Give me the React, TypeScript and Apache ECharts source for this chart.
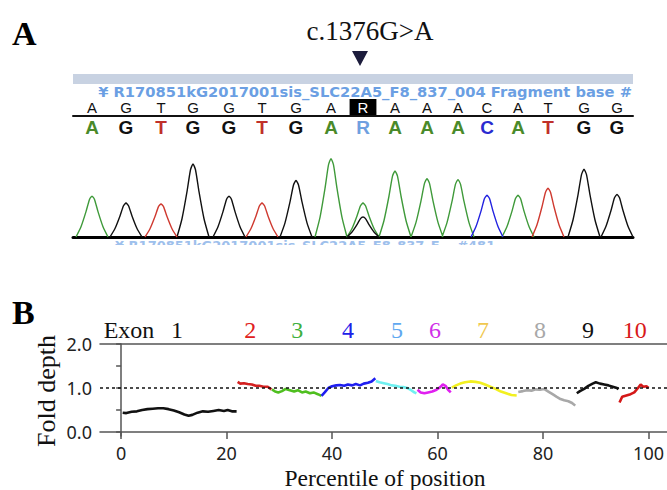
import React, { useEffect, useRef } from "react";
import * as echarts from "echarts";

// ---------- Panel A: chromatogram ----------
const calledBases = ["A", "G", "T", "G", "G", "T", "G", "A", "R", "A", "A", "A", "C", "A", "T", "G", "G"];
const basePos = [19, 53, 88, 120, 156, 189, 223, 258, 290, 322, 354, 385, 414, 445, 475, 511, 544];
// peaks: trace position, height (% of scale), channel
const peakPos = [19, 53, 88, 120, 156, 189, 223, 258, 290, 290, 322, 354, 385, 414, 445, 475, 511, 544];
const peakHeight = [47, 39, 38, 84, 47, 39, 65, 90, 39, 23, 76, 67, 66, 48, 48, 56, 78, 49];
const peakChannel = ["A", "G", "T", "G", "G", "T", "G", "A", "A", "G", "A", "A", "A", "C", "A", "T", "G", "G"];

// ---------- Panel B: fold depth per exon ----------
const exon1 = [[0.3,0.44],[1,0.43],[2,0.46],[3,0.47],[4,0.5],[5,0.52],[6,0.53],[7,0.54],[8,0.54],[9,0.52],[10,0.49],[11,0.45],[12,0.4],[12.8,0.37],[13.5,0.39],[14.5,0.44],[15.5,0.47],[16.5,0.46],[17.5,0.48],[18.5,0.5],[19.5,0.48],[20.2,0.5],[21,0.47],[21.9,0.47]];
const exon2 = [[22.1,1.14],[22.6,1.1],[23.3,1.11],[24,1.09],[24.8,1.08],[25.5,1.05],[26.2,1.05],[27,1.03],[27.8,1.03],[28.5,0.97]];
const exon3 = [[28.6,0.97],[29.2,0.92],[29.8,0.9],[30.5,0.93],[31.2,0.98],[32,0.95],[32.8,0.92],[33.5,0.95],[34.3,0.9],[35,0.92],[35.8,0.88],[36.5,0.9],[37.3,0.86],[38,0.82]];
const exon4 = [[38,0.82],[38.6,0.9],[39.3,1.0],[40,1.04],[40.8,1.06],[41.5,1.07],[42.3,1.05],[43,1.08],[43.8,1.06],[44.5,1.09],[45.3,1.06],[46,1.1],[46.8,1.12],[47.5,1.15],[48.2,1.22]];
const exon5 = [[48.3,1.16],[49,1.13],[49.8,1.11],[50.5,1.09],[51.3,1.06],[52,1.05],[52.8,1.03],[53.5,1.02],[54.3,1.0],[55,0.95],[55.6,0.9],[56,0.88]];
const exon6 = [[56.2,0.96],[56.8,0.9],[57.5,0.88],[58.2,0.9],[59,0.92],[59.8,0.96],[60.5,1.02],[61,1.08],[61.5,1.05],[62,0.96],[62.5,0.9]];
const exon7 = [[62.7,1.01],[63.5,1.06],[64.3,1.1],[65.2,1.13],[66.2,1.15],[67.2,1.14],[68.1,1.12],[69,1.08],[70,1.03],[71,0.98],[72,0.92],[73,0.88],[74,0.84],[75,0.83]];
const exon8 = [[75.3,0.91],[76.2,0.93],[77,0.95],[77.8,0.94],[78.6,0.97],[79.4,0.96],[80.2,0.98],[81,0.92],[81.8,0.86],[82.6,0.8],[83.3,0.75],[84,0.72],[84.8,0.7],[85.5,0.66],[86.1,0.6]];
const exon9 = [[86.4,0.88],[87,0.93],[87.8,0.98],[88.6,1.05],[89.4,1.1],[90,1.13],[90.8,1.1],[91.6,1.08],[92.4,1.06],[93.2,1.03],[94,1.0],[94.3,0.97]];
const exon10 = [[94.5,0.67],[95,0.8],[95.8,0.83],[96.6,0.86],[97.3,0.9],[98,1.0],[98.5,1.08],[99,1.03],[99.6,1.04],[100,1.0]];
const exonData = [exon1, exon2, exon3, exon4, exon5, exon6, exon7, exon8, exon9, exon10];
const exonLineColors = ["#111111", "#d42020", "#4fbf1f", "#1e1ef0", "#6ff0f0", "#e020f0", "#f2f020", "#a8a8a8", "#111111", "#d41818"];
const exonLabels = ["Exon", "1", "2", "3", "4", "5", "6", "7", "8", "9", "10"];
const exonLabelPos = [1.5, 10.6, 24.5, 33.4, 43.0, 52.3, 59.5, 68.6, 79.4, 88.5, 97.4];
const exonLabelColors = ["#111111", "#111111", "#e02020", "#3fb03f", "#2020e8", "#60a8f0", "#d030e8", "#f0c850", "#a8a8a8", "#111111", "#d81818"];
const xTicks = [0, 20, 40, 60, 80, 100];
const yTicks = [0, 0.5, 1, 1.5, 2];
const yLabels = [0, 1, 2];

const channelColor: Record<string, string> = { A: "#3f9a3a", G: "#111111", T: "#cf3a30", C: "#2222e0" };
const letterColor: Record<string, string> = { A: "#4a8a2a", G: "#111111", T: "#c0302a", C: "#2a2ad0", R: "#6fa0e0" };

// peak drawing template (shape only)
const tplOff = [-16, -11, -6, -2.5, 0, 2.5, 6, 11, 16];
const tplFrac = [0, 0.25, 0.62, 0.92, 1, 0.92, 0.62, 0.25, 0];

function traceFor(ch: string) {
  const out: any[] = [];
  peakPos.forEach((p, i) => {
    if (peakChannel[i] !== ch) return;
    tplOff.forEach((o, k) => out.push([p + o, peakHeight[i] * tplFrac[k]]));
    out.push([p + 16.5, null]);
  });
  return out;
}

export default function App() {
  const ref = useRef<HTMLDivElement>(null);
  useEffect(() => {
    if (!ref.current) return;
    const chart = echarts.init(ref.current, null, { renderer: "svg" });
    const serif = "'Liberation Serif', 'Times New Roman', serif";
    const sans = "'Noto Sans', sans-serif";
    const narrow = "'Liberation Sans Narrow', 'Arial Narrow', 'Liberation Sans', sans-serif";

    const exonRich: any = {};
    exonLabelColors.forEach((c, i) => {
      exonRich["e" + i] = { color: c, fontSize: 24, fontFamily: serif };
    });
    const topRich: any = {
      n: { color: "#111", fontSize: 15, fontFamily: narrow, lineHeight: 14 },
      r: { color: "#fff", backgroundColor: "#000", fontSize: 15, fontFamily: narrow, lineHeight: 14, padding: [1, 8, 0, 8] },
    };
    const colRich: any = {};
    Object.keys(letterColor).forEach((k) => {
      colRich[k] = { color: letterColor[k], fontSize: 19, fontWeight: "bold", fontFamily: narrow, lineHeight: 16 };
    });

    const chromSeries = ["A", "G", "T", "C"].map((ch) => ({
      type: "line",
      xAxisIndex: 2,
      yAxisIndex: 1,
      data: traceFor(ch),
      smooth: 0.2,
      symbol: "none",
      connectNulls: false,
      lineStyle: { color: channelColor[ch], width: 1.4 },
      z: 3,
    }));

    const exonSeries = exonData.map((d, i) => ({
      type: "line",
      xAxisIndex: 0,
      yAxisIndex: 0,
      data: d,
      symbol: "none",
      lineStyle: { color: exonLineColors[i], width: 2.6 },
      z: 4,
      markLine:
        i === 0
          ? {
              silent: true,
              symbol: "none",
              label: { show: false },
              lineStyle: { color: "#111", type: [3, 3], width: 1.5 },
              data: [{ yAxis: 1 }],
            }
          : undefined,
    }));

    const option: any = {
      animation: false,
      backgroundColor: "#ffffff",
      grid: [
        { left: 100, top: 344, width: 567, height: 92 },
        { left: 73, top: 150, width: 560, height: 87 },
      ],
      xAxis: [
        {
          gridIndex: 0, type: "value", min: -4, max: 103.5, position: "bottom",
          axisLine: { show: true, lineStyle: { color: "#555", width: 1.5 } },
          axisTick: { show: true, customValues: xTicks, length: 7, lineStyle: { color: "#555", width: 1.5 } },
          axisLabel: { customValues: xTicks, margin: 8, fontSize: 18, lineHeight: 18, color: "#222", fontFamily: sans },
          splitLine: { show: false },
        },
        {
          gridIndex: 0, type: "value", min: -4, max: 103.5, position: "top",
          axisLine: { show: true, lineStyle: { color: "#555", width: 1.5 } },
          axisTick: { show: false },
          axisLabel: {
            customValues: exonLabelPos, margin: 2,
            formatter: (v: number) => {
              const i = exonLabelPos.indexOf(v);
              return i < 0 ? "" : `{e${i}|${exonLabels[i]}}`;
            },
            rich: exonRich,
          },
          splitLine: { show: false },
        },
        {
          gridIndex: 1, type: "value", min: 0, max: 560, position: "bottom",
          axisLine: { show: true, lineStyle: { color: "#000", width: 3 } },
          axisTick: { show: false }, axisLabel: { show: false }, splitLine: { show: false },
        },
        {
          gridIndex: 1, type: "value", min: 0, max: 560, position: "top", offset: 34,
          axisLine: { show: true, lineStyle: { color: "#111", width: 2 } },
          axisTick: { show: false },
          axisLabel: {
            customValues: basePos, margin: 2,
            formatter: (v: number) => {
              const i = basePos.indexOf(v);
              if (i < 0) return "";
              const b = calledBases[i];
              return b === "R" ? `{r|${b}}` : `{n|${b}}`;
            },
            rich: topRich,
          },
          splitLine: { show: false },
        },
        {
          gridIndex: 1, type: "value", min: 0, max: 560, position: "top", offset: 34,
          axisLine: { show: false }, axisTick: { show: false },
          axisLabel: {
            inside: true, customValues: basePos, margin: 3,
            formatter: (v: number) => {
              const i = basePos.indexOf(v);
              if (i < 0) return "";
              const b = calledBases[i];
              return `{${b}|${b}}`;
            },
            rich: colRich,
          },
          splitLine: { show: false },
        },
      ],
      yAxis: [
        {
          gridIndex: 0, type: "value", min: -0.09, max: 2,
          axisLine: { show: true, lineStyle: { color: "#555", width: 1.5 } },
          axisTick: { show: true, customValues: yTicks, length: 5, lineStyle: { color: "#555", width: 1.5 } },
          axisLabel: {
            customValues: yLabels, margin: 8, fontSize: 18, color: "#222", fontFamily: sans,
            formatter: (v: number) => v.toFixed(1),
          },
          splitLine: { show: false },
        },
        { gridIndex: 1, type: "value", min: 0, max: 100, show: false },
      ],
      series: [...chromSeries, ...exonSeries],
      graphic: [
        { type: "text", x: 12, y: 16, style: { text: "A", font: `bold 34px ${serif}`, fill: "#000" } },
        { type: "text", x: 370, y: 31, style: { text: "c.1376G>A", font: `27px ${serif}`, fill: "#111", align: "center", verticalAlign: "middle" } },
        { type: "polygon", shape: { points: [[352, 51], [368, 51], [360, 66]] }, style: { fill: "#1c1c3c" } },
        { type: "rect", shape: { x: 73, y: 74, width: 560, height: 10 }, style: { fill: "#c8d2e2" } },
        { type: "text", x: 632, y: 91, style: { text: "¥ R170851kG2017001sis_SLC22A5_F8_837_004 Fragment base #", font: `bold 14.7px 'DejaVu Sans', sans-serif`, fill: "#6b9fe3", align: "right", verticalAlign: "middle" } },
        { type: "text", x: 115, y: 239, z: 1, style: { text: "¥ R170851kG2017001sis_SLC22A5_F8_837_F... #481", font: `bold 13px 'DejaVu Sans', sans-serif`, fill: "#9ec0ec", align: "left", verticalAlign: "top" } },
        { type: "rect", z: 2, shape: { x: 70, y: 245, width: 580, height: 14 }, style: { fill: "#fff" } },
        { type: "text", x: 12, y: 295, style: { text: "B", font: `bold 34px ${serif}`, fill: "#000" } },
        { type: "text", x: 46, y: 391, rotation: Math.PI / 2, style: { text: "Fold depth", font: `26px ${serif}`, fill: "#111", align: "center", verticalAlign: "middle" } },
        { type: "text", x: 385, y: 478, style: { text: "Percentile of position", font: `23.5px ${serif}`, fill: "#111", align: "center", verticalAlign: "middle" } },
      ],
    };
    chart.setOption(option);
    return () => chart.dispose();
  }, []);
  return (
    <div
      ref={ref}
      style={{ position: "absolute", left: 0, top: 0, width: 667, height: 490, background: "#fff" }}
    />
  );
}
